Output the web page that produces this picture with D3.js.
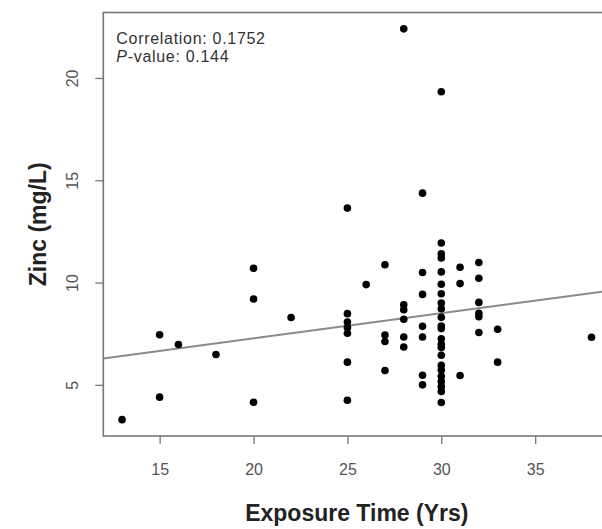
<!DOCTYPE html>
<html>
<head>
<meta charset="utf-8">
<script src="https://cdn.jsdelivr.net/npm/d3@7"></script>
<style>
  body { margin: 0; background: #fff; }
  svg { display: block; font-family: "Liberation Sans", Arial, sans-serif; }
</style>
</head>
<body>
<div id="scatter"></div>
<script>
// exposure time (years) for every subject
const exposure = [
  13,
  15, 15,
  16,
  18,
  20, 20, 20,
  22,
  25, 25, 25, 25, 25, 25, 25,
  26,
  27, 27, 27, 27,
  28, 28, 28, 28, 28, 28,
  29, 29, 29, 29, 29, 29, 29,
  30, 30, 30, 30, 30, 30, 30, 30, 30, 30, 30, 30, 30, 30, 30, 30, 30, 30, 30, 30, 30, 30, 30,
  31, 31, 31,
  32, 32, 32, 32, 32, 32,
  33, 33,
  38
];

// zinc concentration (mg/L), same order as exposure
const zinc = [
  3.3,
  7.45, 4.4,
  6.97,
  6.48,
  10.7, 9.2, 4.15,
  8.29,
  13.64, 8.48, 8.07, 7.8, 7.52, 6.11, 4.25,
  9.9,
  10.87, 7.44, 7.12, 5.7,
  22.4, 8.91, 8.67, 8.21, 7.34, 6.85,
  14.37, 10.49, 9.42, 7.86, 7.34, 5.47, 5.0,
  19.33, 11.93, 11.4, 11.2, 10.52, 9.92, 9.45, 9.0, 8.72, 8.3, 7.88, 7.75, 7.25, 6.98, 6.82, 6.45, 5.95, 5.72, 5.42, 5.16, 4.92, 4.68, 4.14,
  10.75, 9.95, 5.46,
  10.98, 10.21, 9.03, 8.5, 8.33, 7.56,
  7.72, 6.11,
  7.33
];

// axis ticks
const xTicks = [15, 20, 25, 30, 35];
const yTicks = [5, 10, 15, 20];

// fitted regression line (zinc = intercept + slope * exposure)
const fitIntercept = 4.82;
const fitSlope = 0.1228;

// annotation
const corrLabel = "Correlation: 0.1752";
const pValue = "0.144";

function draw() {
  // svg size and plot margins (the plot box runs past the right edge, like the source image)
  const W = 602, H = 529;
  const margin = {top: 12.5, left: 103.3, bottom: 93};
  const plotW = 507;
  const plotH = H - margin.top - margin.bottom;

  const svg = d3.select("#scatter")
    .append("svg")
    .attr("width", W)
    .attr("height", H);

  const chart = svg.append("g")
    .attr("transform", `translate(${margin.left}, ${margin.top})`);

  // scales, with R's extra 4% around the data
  const xScale = d3.scaleLinear()
    .domain([12, 39])
    .range([0, plotW]);

  const yScale = d3.scaleLinear()
    .domain([2.5, 23.2])
    .range([plotH, 0]);

  // x axis
  const xAxisGroup = chart.append("g")
    .attr("transform", `translate(0, ${plotH})`)
    .call(d3.axisBottom(xScale).tickValues(xTicks).tickSize(8).tickSizeOuter(0));

  xAxisGroup.select(".domain").remove();
  xAxisGroup.selectAll(".tick line").attr("stroke", "#777").attr("stroke-width", 1.3);
  xAxisGroup.selectAll(".tick text")
    .attr("y", 39)
    .attr("dy", 0)
    .attr("fill", "#555")
    .attr("font-size", 16);

  // y axis with R-style rotated labels
  const yAxisGroup = chart.append("g")
    .call(d3.axisLeft(yScale).tickValues(yTicks).tickSize(8).tickSizeOuter(0));

  yAxisGroup.select(".domain").remove();
  yAxisGroup.selectAll(".tick line").attr("stroke", "#777").attr("stroke-width", 1.3);
  yAxisGroup.selectAll(".tick text")
    .attr("x", 0)
    .attr("dy", 0)
    .attr("transform", "translate(-25, 0) rotate(-90)")
    .attr("text-anchor", "middle")
    .attr("fill", "#555")
    .attr("font-size", 16);

  // clip everything inside the plot box
  chart.append("clipPath")
    .attr("id", "plot-clip")
    .append("rect")
    .attr("width", plotW)
    .attr("height", plotH);

  // regression line
  chart.append("line")
    .attr("clip-path", "url(#plot-clip)")
    .attr("x1", xScale(12))
    .attr("y1", yScale(fitIntercept + fitSlope * 12))
    .attr("x2", xScale(39))
    .attr("y2", yScale(fitIntercept + fitSlope * 39))
    .attr("stroke", "#8a8a8a")
    .attr("stroke-width", 2);

  // points
  chart.append("g")
    .selectAll("circle")
    .data(d3.range(exposure.length))
    .join("circle")
    .attr("cx", i => xScale(exposure[i]))
    .attr("cy", i => yScale(zinc[i]))
    .attr("r", 3.8)
    .attr("fill", "#000");

  // plot box
  chart.append("rect")
    .attr("width", plotW)
    .attr("height", plotH)
    .attr("fill", "none")
    .attr("stroke", "#777")
    .attr("stroke-width", 1.6);

  // correlation annotation
  chart.append("text")
    .attr("x", 13)
    .attr("y", 31)
    .attr("font-size", 16)
    .attr("letter-spacing", 0.7)
    .attr("fill", "#333")
    .text(corrLabel);

  const pText = chart.append("text")
    .attr("x", 13)
    .attr("y", 49.5)
    .attr("font-size", 16)
    .attr("letter-spacing", 0.7)
    .attr("fill", "#333");
  pText.append("tspan").attr("font-style", "italic").text("P");
  pText.append("tspan").text("-value: " + pValue);

  // axis titles
  svg.append("text")
    .attr("x", margin.left + plotW / 2)
    .attr("y", 521)
    .attr("text-anchor", "middle")
    .attr("font-size", 23)
    .attr("font-weight", "bold")
    .attr("fill", "#222")
    .text("Exposure Time (Yrs)");

  svg.append("text")
    .attr("transform", `translate(46, ${margin.top + plotH / 2}) rotate(-90)`)
    .attr("text-anchor", "middle")
    .attr("font-size", 23)
    .attr("font-weight", "bold")
    .attr("fill", "#222")
    .text("Zinc (mg/L)");
}

draw();
</script>
</body>
</html>
